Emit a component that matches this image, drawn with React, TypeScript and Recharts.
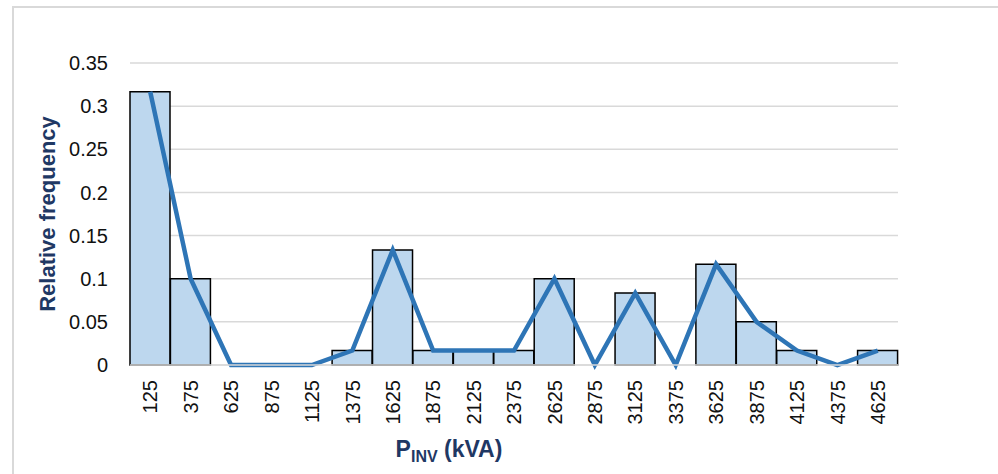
import { Bar, CartesianGrid, ComposedChart, Line, XAxis, YAxis } from "recharts";

const bins = [
  "125", "375", "625", "875", "1125", "1375", "1625", "1875", "2125", "2375",
  "2625", "2875", "3125", "3375", "3625", "3875", "4125", "4375", "4625",
];

const frequency = [
  0.3167, 0.1, 0, 0, 0, 0.0167, 0.1333, 0.0167, 0.0167, 0.0167,
  0.1, 0, 0.0833, 0, 0.1167, 0.05, 0.0167, 0, 0.0167,
];

const yTicks = [0, 0.05, 0.1, 0.15, 0.2, 0.25, 0.3, 0.35];

const chartData = bins.map((bin, i) => ({ bin, freq: frequency[i] }));

const FONT = '"Liberation Sans", Arial, sans-serif';
const NAVY = "#1f3864";

function BinTick({ x, y, payload }: any) {
  return (
    <text
      transform={`translate(${x},${y + 7}) rotate(-90)`}
      textAnchor="end"
      dy="0.36em"
      fontSize={20}
      fontFamily={FONT}
      fill="#111"
    >
      {payload.value}
    </text>
  );
}

function XTitle({ viewBox }: any) {
  const cx = viewBox.x + viewBox.width / 2 - 65;
  return (
    <text x={cx} y={457} textAnchor="middle" fontFamily={FONT} fontWeight="bold" fill={NAVY} fontSize={23}>
      P
      <tspan fontSize={16} dy={5}>INV</tspan>
      <tspan dy={-5}> (kVA)</tspan>
    </text>
  );
}

function YTitle({ viewBox }: any) {
  const cy = viewBox.y + viewBox.height / 2;
  return (
    <text
      transform={`translate(47,${cy}) rotate(-90)`}
      textAnchor="middle"
      dominantBaseline="central"
      fontFamily={FONT}
      fontWeight="bold"
      fill={NAVY}
      fontSize={22}
    >
      Relative frequency
    </text>
  );
}

export default function App() {
  return (
    <div style={{ position: "absolute", left: 0, top: 0, width: 998, height: 474, background: "#fff", overflow: "hidden" }}>
      <div
        style={{
          position: "absolute",
          left: 12,
          top: 6,
          width: 1000,
          height: 500,
          border: "2px solid #d9d9d9",
          boxSizing: "border-box",
        }}
      />
      <ComposedChart
        width={998}
        height={474}
        data={chartData}
        margin={{ top: 63, right: 100, left: 70, bottom: 0 }}
        barCategoryGap={0}
        style={{ position: "absolute", left: 0, top: 0 }}
      >
        <CartesianGrid vertical={false} stroke="#d9d9d9" strokeWidth={1.5} />
        <XAxis
          dataKey="bin"
          interval={0}
          height={109}
          axisLine={{ stroke: "#d9d9d9", strokeWidth: 1.5 }}
          tickLine={false}
          tick={<BinTick />}
          label={<XTitle />}
        />
        <YAxis
          type="number"
          domain={[0, 0.35]}
          ticks={yTicks}
          width={60}
          axisLine={false}
          tickLine={false}
          tickMargin={16}
          tick={{ fontSize: 20, fontFamily: FONT, fill: "#111" }}
          label={<YTitle />}
        />
        <Bar dataKey="freq" fill="#bdd7ee" stroke="#000" strokeWidth={1.5} isAnimationActive={false} />
        <Line
          type="linear"
          dataKey="freq"
          stroke="#2e75b6"
          strokeWidth={4.5}
          dot={false}
          activeDot={false}
          isAnimationActive={false}
        />
      </ComposedChart>
    </div>
  );
}
